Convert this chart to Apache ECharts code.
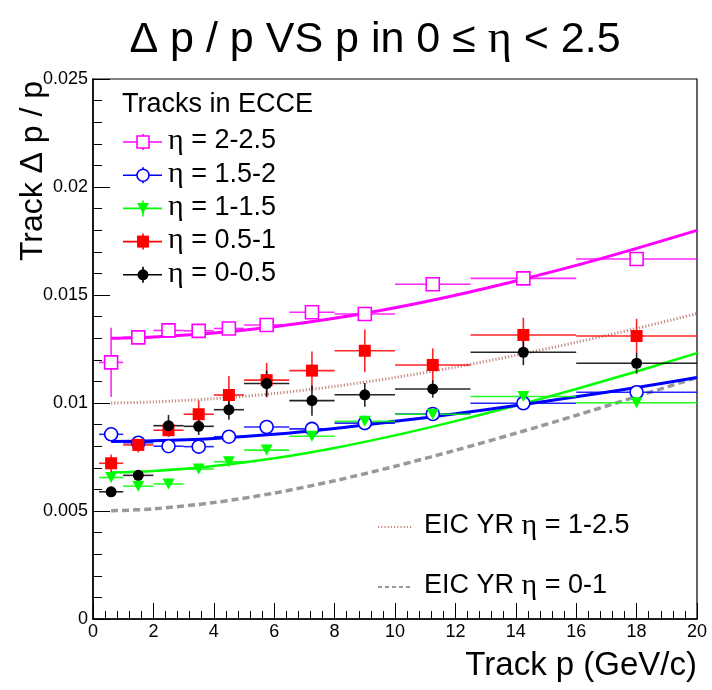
<!DOCTYPE html>
<html>
<head>
<meta charset="utf-8">
<script src="https://cdn.jsdelivr.net/npm/echarts@6/dist/echarts.min.js"></script>
<style>html,body{margin:0;padding:0;background:#fff;}#c{width:712px;height:690px;}</style>
</head>
<body>
<div id="c"></div>
<script>
// ---------- data ----------
const pCenters = [0.6, 1.5, 2.5, 3.5, 4.5, 5.75, 7.25, 9, 11.25, 14.25, 18];
const pLow     = [0.2, 1, 2, 3, 4, 5, 6.5, 8, 10, 12.5, 16];
const pHigh    = [1, 2, 3, 4, 5, 6.5, 8, 10, 12.5, 16, 20];

const eta2_25  = [0.01188, 0.01304, 0.01336, 0.01334, 0.01345, 0.01361, 0.01420, 0.01412, 0.01550, 0.01577, 0.01667];
const eta2_25E = [0.0016, 0.0002, 0.0002, 0.0002, 0.0002, 0.0001, 0.0001, 0.0001, 0.0001, 0.0001, 0.0001];
const eta15_2  = [0.00855, 0.00816, 0.00800, 0.00798, 0.00844, 0.00889, 0.00880, 0.00907, 0.00949, 0.00999, 0.01050];
const eta15_2E = [0.0003, 0.0002, 0.0001, 0.0001, 0.0001, 0.0001, 0.0001, 0.0001, 0.0001, 0.0001, 0.0001];
const eta1_15  = [0.00655, 0.00615, 0.00625, 0.00694, 0.00728, 0.00782, 0.00846, 0.00915, 0.00948, 0.01030, 0.01001];
const eta1_15E = [0.0001, 0.0001, 0.0001, 0.0001, 0.0001, 0.0001, 0.0001, 0.0001, 0.0001, 0.0001, 0.0001];
const eta05_1  = [0.00721, 0.00806, 0.00874, 0.00948, 0.01037, 0.01106, 0.01150, 0.01242, 0.01176, 0.01315, 0.01310];
const eta05_1E = [0.0004, 0.00035, 0.0003, 0.00064, 0.00088, 0.0008, 0.00088, 0.00098, 0.00077, 0.0008, 0.0008];
const eta0_05  = [0.00589, 0.00665, 0.00895, 0.00892, 0.00969, 0.01090, 0.01011, 0.01038, 0.01065, 0.01235, 0.01184];
const eta0_05E = [0.0002, 0.0002, 0.0005, 0.0004, 0.00046, 0.0006, 0.0007, 0.00055, 0.0004, 0.0006, 0.00048];

// fitted curves / YR requirement curves
const curveP      = [0.6, 2, 4, 6, 8, 10, 12, 14, 16, 18, 20];
const fit2_25     = [0.01300, 0.01306, 0.01324, 0.01353, 0.01392, 0.01441, 0.01499, 0.01565, 0.01637, 0.01716, 0.01799];
const fit15_2     = [0.00822, 0.00825, 0.00836, 0.00855, 0.00882, 0.00915, 0.00950, 0.00988, 0.01029, 0.01072, 0.01118];
const fit1_15     = [0.00678, 0.00685, 0.00708, 0.00744, 0.00792, 0.00850, 0.00916, 0.00988, 0.01065, 0.01146, 0.01231];
const yr1_25      = [0.01000, 0.01005, 0.01020, 0.01044, 0.01077, 0.01118, 0.01166, 0.01221, 0.01281, 0.01345, 0.01414];
const yr0_1       = [0.00501, 0.00510, 0.00539, 0.00583, 0.00640, 0.00707, 0.00781, 0.00860, 0.00943, 0.01030, 0.01118];

const seriesNames = ['η = 2-2.5', 'η = 1.5-2', 'η = 1-1.5', 'η = 0.5-1', 'η = 0-0.5'];
const yrNames = ['EIC YR η = 1-2.5', 'EIC YR η = 0-1'];

// ---------- helpers ----------
const C = {mag:'#ff00ff', blue:'#0000ff', green:'#00ff00', red:'#ff0000', black:'#000000', brown:'#c48a80', gray:'#999999'};
function pts(vals){ return pCenters.map((x,i)=>[x, vals[i]]); }
function errData(vals, errs){ return pCenters.map((x,i)=>[x, vals[i], pLow[i], pHigh[i], errs[i]]); }
function curve(vals){ return curveP.map((x,i)=>[x, vals[i]]); }

function errSeries(name, vals, errs, color){
  return {
    name: name + ' err', type:'custom', z:3,
    data: errData(vals, errs),
    encode:{x:0, y:1},
    renderItem: function(params, api){
      const x = api.value(0), y = api.value(1), xl = api.value(2), xh = api.value(3), e = api.value(4);
      const l = api.coord([xl, y]), r = api.coord([xh, y]);
      const t = api.coord([x, y + e]), b = api.coord([x, y - e]);
      const st = {stroke: color, lineWidth: 1.6, opacity: 0.85};
      return {type:'group', children:[
        {type:'line', shape:{x1:l[0], y1:l[1], x2:r[0], y2:r[1]}, style:st},
        {type:'line', shape:{x1:t[0], y1:t[1], x2:b[0], y2:b[1]}, style:st}
      ]};
    }
  };
}
function markSeries(name, vals, symbol, size, color, open, rotate){
  return {
    name: name, type:'scatter', z:5, data: pts(vals),
    symbol: symbol, symbolSize: size, symbolRotate: rotate || 0,
    itemStyle: open ? {color:'#ffffff', borderColor: color, borderWidth: 1.6, opacity:1}
                    : {color: color, opacity:1},
    emphasis:{disabled:true}
  };
}
function lineSeries(name, vals, color, width, type){
  return {
    name: name, type:'line', z:2, data: curve(vals), smooth: 0.3, showSymbol:false, symbol:'none',
    lineStyle:{color: color, width: width, type: type || 'solid'}, emphasis:{disabled:true}
  };
}

const chart = echarts.init(document.getElementById('c'), null, {renderer:'canvas'});

const FONT = 'Liberation Sans, Arial, Helvetica, sans-serif';
const GFONT = 'Liberation Serif, Times New Roman, serif';

// legend drawing (graphic)
const legendItems = [
  {name: seriesNames[0], color: C.mag,   sym:'rect',     open:true,  size:[12,12]},
  {name: seriesNames[1], color: C.blue,  sym:'circle',   open:true,  size:[12,12]},
  {name: seriesNames[2], color: C.green, sym:'triangle', open:false, size:[12,11]},
  {name: seriesNames[3], color: C.red,   sym:'rect',     open:false, size:[12,12]},
  {name: seriesNames[4], color: C.black, sym:'circle',   open:false, size:[11,11]}
];
const legendY0 = 142, legendDY = 33.2;
const graphics = [];
graphics.push({type:'text', left:122, top:91, style:{text:'Tracks in ECCE', font:'27px ' + FONT, fill:'#000'}});
legendItems.forEach((it, i)=>{
  const y = legendY0 + i*legendDY;
  graphics.push({type:'line', shape:{x1:123, y1:y, x2:162, y2:y}, style:{stroke:it.color, lineWidth:1.6}});
  graphics.push({type:'line', shape:{x1:143, y1:y-8, x2:143, y2:y+8}, style:{stroke:it.color, lineWidth:1.6}});
  if (it.sym === 'rect') {
    graphics.push({type:'rect', shape:{x:143-it.size[0]/2, y:y-it.size[1]/2, width:it.size[0], height:it.size[1]},
      style: it.open ? {fill:'#fff', stroke:it.color, lineWidth:1.6} : {fill:it.color}});
  } else if (it.sym === 'circle') {
    graphics.push({type:'circle', shape:{cx:143, cy:y, r:it.size[0]/2},
      style: it.open ? {fill:'#fff', stroke:it.color, lineWidth:1.6} : {fill:it.color}});
  } else {
    graphics.push({type:'polygon', shape:{points:[[137,y-5.5],[149,y-5.5],[143,y+5.5]]}, style:{fill:it.color}});
  }
  const parts = it.name.split('η');
  graphics.push({type:'text', left:168, top:y-16,
    style:{text:'{g|η}{a|' + parts[1] + '}', rich:{g:{font:'30px ' + GFONT, fill:'#000'}, a:{font:'27px ' + FONT, fill:'#000'}}}});
});
// YR legend
[[yrNames[0], C.brown, [1.2,2], 527], [yrNames[1], C.gray, [4,3], 587]].forEach(([name, col, dash, y])=>{
  graphics.push({type:'line', shape:{x1:378, y1:y, x2:413, y2:y}, style:{stroke:col, lineWidth:2, lineDash:dash}});
  const parts = name.split('η');
  graphics.push({type:'text', left:424, top:y-16,
    style:{text:'{a|' + parts[0] + '}{g|η}{a|' + parts[1] + '}', rich:{g:{font:'30px ' + GFONT, fill:'#000'}, a:{font:'27px ' + FONT, fill:'#000'}}}});
});
// axis titles
graphics.push({type:'text', x:33, y:171, rotation:Math.PI/2,
  style:{text:'Track Δ p / p', font:'32px ' + FONT, fill:'#000', align:'center', verticalAlign:'middle'}});
graphics.push({type:'text', x:697, y:666,
  style:{text:'Track p (GeV/c)', font:'33px ' + FONT, fill:'#000', align:'right', verticalAlign:'middle'}});

const option = {
  animation:false,
  backgroundColor:'#ffffff',
  title:{
    text:'{a|Δ p / p VS p in 0 ≤ }{g|η}{a| < 2.5}',
    left:370, top:12, textAlign:'center',
    textStyle:{rich:{
      a:{fontSize:43, fontFamily:FONT, fontWeight:'normal', color:'#000'},
      g:{fontSize:46, fontFamily:GFONT, fontWeight:'normal', color:'#000'}
    }}
  },
  grid:{left:93, right:15, top:79, bottom:71, show:true, borderColor:'#000', borderWidth:1.2, backgroundColor:'transparent'},
  xAxis:{
    type:'value', min:0, max:20, interval:2,
    axisLine:{show:true, onZero:false, lineStyle:{color:'#000', width:1.5}},
    axisTick:{show:true, inside:true, length:16, lineStyle:{color:'#000', width:1}},
    minorTick:{show:true, splitNumber:5, length:8, lineStyle:{color:'#000', width:1}},
    splitLine:{show:false},
    axisLabel:{fontSize:18, fontFamily:FONT, color:'#000', margin:4}
  },
  yAxis:{
    type:'value', min:0, max:0.025, interval:0.005,
    axisLine:{show:true, onZero:false, lineStyle:{color:'#000', width:1.5}},
    axisTick:{show:true, inside:true, length:17, lineStyle:{color:'#000', width:1}},
    minorTick:{show:true, splitNumber:5, length:9, lineStyle:{color:'#000', width:1}},
    splitLine:{show:false},
    axisLabel:{fontSize:18, fontFamily:FONT, color:'#000', margin:5}
  },
  graphic: graphics,
  series:[
    lineSeries(yrNames[0], yr1_25, C.brown, 3, [1.2,2]),
    lineSeries(yrNames[1], yr0_1, C.gray, 3.5, [7,4]),
    lineSeries('fit ' + seriesNames[2], fit1_15, C.green, 2.5),
    lineSeries('fit ' + seriesNames[1], fit15_2, C.blue, 3),
    lineSeries('fit ' + seriesNames[0], fit2_25, C.mag, 3),
    errSeries(seriesNames[0], eta2_25, eta2_25E, C.mag),
    errSeries(seriesNames[1], eta15_2, eta15_2E, C.blue),
    errSeries(seriesNames[2], eta1_15, eta1_15E, C.green),
    errSeries(seriesNames[3], eta05_1, eta05_1E, C.red),
    errSeries(seriesNames[4], eta0_05, eta0_05E, C.black),
    markSeries(seriesNames[0], eta2_25, 'rect', [13,13], C.mag, true),
    markSeries(seriesNames[1], eta15_2, 'circle', 13, C.blue, true),
    markSeries(seriesNames[2], eta1_15, 'triangle', [12,11], C.green, false, 180),
    markSeries(seriesNames[3], eta05_1, 'rect', [12,12], C.red, false),
    markSeries(seriesNames[4], eta0_05, 'circle', 11, C.black, false)
  ]
};
chart.setOption(option);
</script>
</body>
</html>
